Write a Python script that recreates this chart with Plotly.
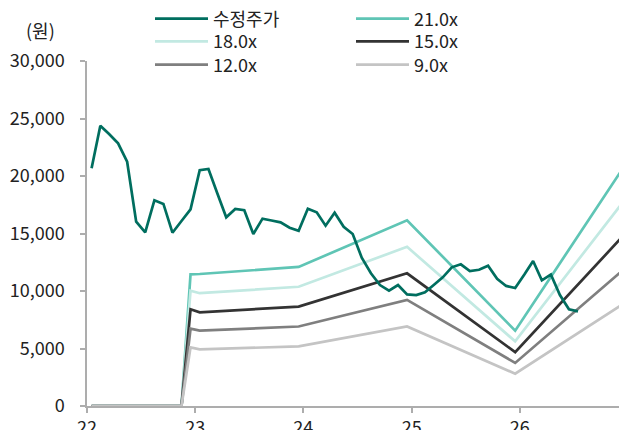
import plotly.graph_objects as go

FONT = "Noto Sans CJK KR"

# 수정주가 (monthly, Jan 2022 - Jul 2026)
price_months = [f"{y}-{m:02d}" for y in range(2022, 2027) for m in range(1, 13)][:55]
price_values = [
    20670, 24370, 23650, 22840, 21240, 16030, 15100, 17890, 17570, 15070, 16090, 17100,
    20500, 20610, 18520, 16410, 17130, 17020, 14960, 16290, 16130, 15970, 15500, 15240,
    17160, 16840, 15680, 16810, 15590, 14960, 12900, 11540, 10520, 10030, 10520, 9710,
    9650, 9890, 10520, 11190, 12060, 12320, 11740, 11850, 12200, 11060, 10440, 10260,
    11430, 12610, 10930, 11430, 9650, 8410, 8230,
]

# PER band lines
band_months = ["2022-01", "2022-11", "2022-12", "2023-01", "2023-12", "2024-12", "2025-12", "2026-12"]
band_21 = [0, 0, 11450, 11480, 12090, 16150, 6550, 20730]
band_18 = [0, 0, 10030, 9810, 10370, 13840, 5620, 17770]
band_15 = [0, 0, 8410, 8150, 8640, 11540, 4680, 14810]
band_12 = [0, 0, 6720, 6550, 6910, 9230, 3745, 11840]
band_9 = [0, 0, 5100, 4930, 5180, 6920, 2810, 8880]

series_names = ["수정주가", "21.0x", "18.0x", "15.0x", "12.0x", "9.0x"]
y_ticks = [0, 5000, 10000, 15000, 20000, 25000, 30000]

W, H = 619, 430
ML, MR, MT, MB = 87, 0, 61, 24
PW, PH = W - ML - MR, H - MT - MB

fig = go.Figure()

bands = [
    (series_names[1], band_21, "#5FC5B5", 2, "legend"),
    (series_names[2], band_18, "#C2E9E2", 3, "legend2"),
    (series_names[3], band_15, "#333333", 4, "legend2"),
    (series_names[4], band_12, "#7F7F7F", 5, "legend3"),
    (series_names[5], band_9, "#C4C4C4", 6, "legend3"),
]
for name, vals, color, rank, lg in bands:
    fig.add_trace(go.Scatter(
        x=band_months, y=vals, name=name, mode="lines",
        line=dict(color=color, width=2.7),
        xperiod="M1", xperiodalignment="middle",
        legendrank=rank, legend=lg,
    ))

fig.add_trace(go.Scatter(
    x=price_months, y=price_values, name=series_names[0], mode="lines",
    line=dict(color="#006E5F", width=2.7),
    xperiod="M1", xperiodalignment="middle",
    legendrank=1, legend="legend",
))

def legend_row(center_y):
    return dict(
        orientation="h", xref="container", yref="container",
        x=150 / W, y=1 - center_y / H, xanchor="left", yanchor="middle",
        itemwidth=53,
        entrywidth=133, entrywidthmode="pixels",
        font=dict(family=FONT, size=18, color="#222222"),
        bgcolor="rgba(0,0,0,0)",
    )

fig.update_layout(
    width=W, height=H,
    margin=dict(l=ML, r=MR, t=MT, b=MB, autoexpand=False),
    paper_bgcolor="white", plot_bgcolor="white",
    font=dict(family=FONT, size=18, color="#222222"),
    showlegend=True,
    legend=legend_row(19),
    legend2=legend_row(41.7),
    legend3=legend_row(65),
    xaxis=dict(
        type="date",
        range=["2022-01-01", "2026-12-02"],
        tick0="2022-01-01", dtick="M12", tickformat="%y",
        ticks="outside", ticklen=5, tickcolor="#ADADAD", tickwidth=1.5,
        showline=True, linecolor="#ADADAD", linewidth=1.5,
        showgrid=False, zeroline=False,
        tickfont=dict(family=FONT, size=18, color="#222222"),
    ),
    yaxis=dict(
        range=[0, 30000], tickvals=y_ticks, tickformat=",",
        ticks="outside", ticklen=5, tickcolor="#ADADAD", tickwidth=1.5,
        showline=True, linecolor="#ADADAD", linewidth=1.5,
        showgrid=False, zeroline=False,
        ticklabelstandoff=12,
        tickfont=dict(family=FONT, size=18, color="#222222"),
    ),
    annotations=[dict(
        text="(원)", xref="paper", yref="paper",
        x=(40 - ML) / PW, y=(H - MB - 30) / PH, xanchor="center", yanchor="middle",
        showarrow=False, font=dict(family=FONT, size=18, color="#222222"),
    )],
)

# remove the default page margin so the figure fills the window exactly
fig.write_html(
    "out.html",
    config={"displayModeBar": False},
    post_script="document.body.style.margin='0';document.body.style.overflow='hidden';",
)
